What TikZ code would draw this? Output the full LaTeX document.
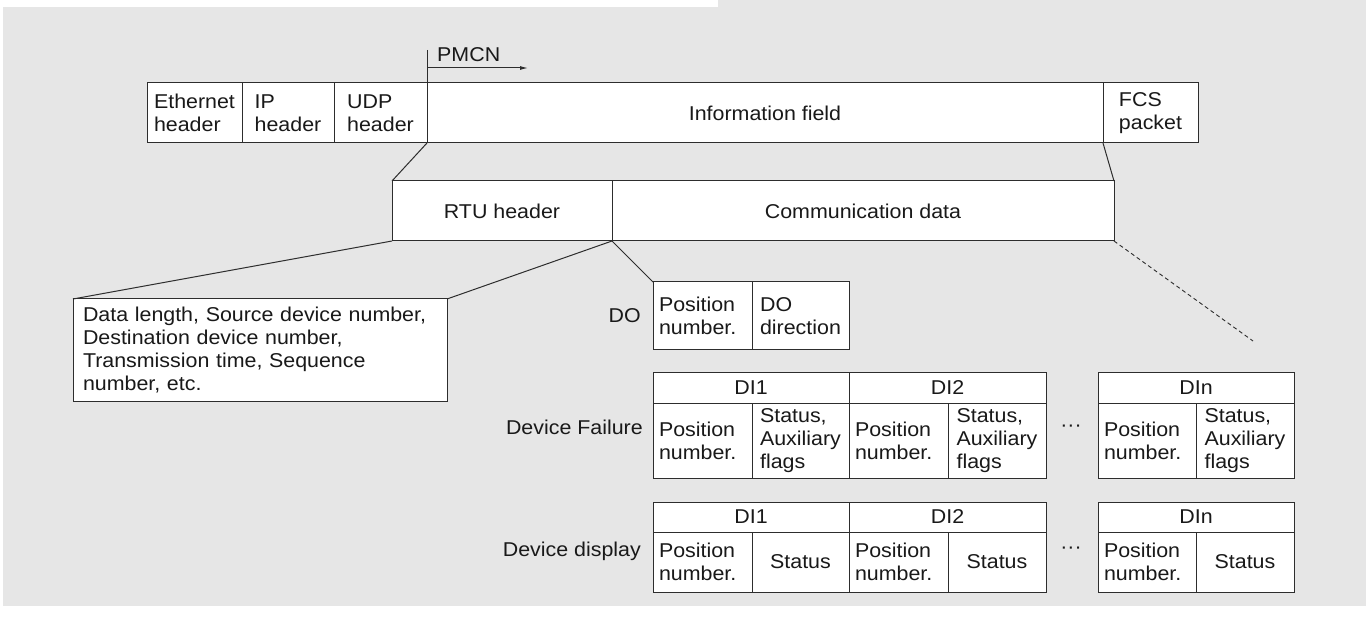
\documentclass[tikz,border=0pt]{standalone}
\usepackage{fontspec}
\setmainfont[FakeStretch=1.07]{Liberation Sans}
\usetikzlibrary{arrows.meta}
\definecolor{bgc}{RGB}{230,230,230}
\definecolor{linec}{RGB}{45,45,45}
\definecolor{textc}{RGB}{25,25,25}
\begin{document}
\begin{tikzpicture}[x=1pt,y=-1pt,
  font=\fontsize{20}{23}\selectfont, text=textc,
  cell/.style={draw=linec, fill=white, line width=1pt, inner sep=0pt,
    outer sep=0pt, anchor=north west, align=left},
  lcell/.style={cell, inner xsep=6pt, text width=#1},
  conn/.style={draw=linec, line width=1pt},
  lbl/.style={inner sep=0pt, anchor=base east}]
\useasboundingbox (0,0) rectangle (1366,620);
% page background
\fill[white] (0,0) rectangle (1366,620);
\fill[bgc] (3,7) rectangle (1366,606);
\fill[bgc] (718,0) rectangle (1366,7);

% ---- Ethernet frame ----
\node[cell, minimum width=95, minimum height=60] (eth) at (147,83) {Ethernet\\header};
\node[cell, minimum width=92, minimum height=60] (ip) at (242,83) {IP\\header};
\node[cell, minimum width=93, minimum height=60] (udp) at (334,83) {UDP\\header};
\node[cell, minimum width=676, minimum height=60] (info) at (427,83) {Information field};
\node[cell, minimum width=95, minimum height=60] (fcs) at (1103,83) {FCS\\packet};

% PMCN marker
\coordinate (pmcntop) at (427,50);
\coordinate (pmcna) at (427,68);
\coordinate (pmcnb) at (528,68);
\draw[conn] (pmcntop) -- (info.north west);
\draw[conn, -{Latex[length=8pt,width=4pt]}] (pmcna) -- (pmcnb);
\node[inner sep=0pt, anchor=base west] (pmcn) at (437,62) {PMCN};

% ---- information field ----
\node[cell, minimum width=220, minimum height=60, align=center] (rtu) at (392,181) {RTU header};
\node[cell, minimum width=502, minimum height=60, align=center] (comm) at (612,181) {Communication data};
\draw[conn] (udp.south east) -- (rtu.north west);
\draw[conn] (fcs.south west) -- (comm.north east);

% ---- RTU header contents ----
\node[cell, inner xsep=10pt, text width=354, minimum width=374, minimum height=102] (data) at (73,299)
  {Data length, Source device number,\\Destination device number,\\Transmission time, Sequence\\number, etc.};
\draw[conn] (rtu.south west) -- (data.north west);
\draw[conn] (rtu.south east) -- (data.north east);

% ---- DO ----
\node[lcell=87, minimum width=99, minimum height=68] (dopos) at (653,282) {Position\\number.};
\node[cell, minimum width=97, minimum height=68] (dodir) at (752,282) {DO\\direction};
\node[lbl] (dolbl) at (641,323) {DO};
\draw[conn] (rtu.south east) -- (dopos.north west);

% dashed continuation of the communication data
\coordinate (dashend) at (1253,341);
\draw[draw=linec, line width=0.9pt, dash pattern=on 4pt off 3pt] (comm.south east) -- (dashend);

% ---- Device Failure ----
\node[cell, minimum width=196, minimum height=30, align=center] (fa) at (653,373) {DI1};
\node[cell, minimum width=197, minimum height=30, align=center] (fb) at (849,373) {DI2};
\node[cell, minimum width=196, minimum height=30, align=center] (fn) at (1098,373) {DIn};
\node[lcell=87, minimum width=99, minimum height=75] (fap) at (653,403) {Position\\number.};
\node[cell, minimum width=97, minimum height=75] (fas) at (752,403) {Status,\\Auxiliary\\flags};
\node[lcell=87, minimum width=99, minimum height=75] (fbp) at (849,403) {Position\\number.};
\node[cell, minimum width=98, minimum height=75] (fbs) at (948,403) {Status,\\Auxiliary\\flags};
\node[lcell=86, minimum width=98, minimum height=75] (fnp) at (1098,403) {Position\\number.};
\node[cell, minimum width=98, minimum height=75] (fns) at (1196,403) {Status,\\Auxiliary\\flags};
\node[lbl] (flbl) at (643,434) {Device Failure};
\node[inner sep=0pt, anchor=base] (fdots) at (1071,431) {···};

% ---- Device display ----
\node[cell, minimum width=196, minimum height=30, align=center] (da) at (653,502) {DI1};
\node[cell, minimum width=197, minimum height=30, align=center] (db) at (849,502) {DI2};
\node[cell, minimum width=196, minimum height=30, align=center] (dn) at (1098,502) {DIn};
\node[lcell=87, minimum width=99, minimum height=60] (dap) at (653,532) {Position\\number.};
\node[cell, minimum width=97, minimum height=60, align=center] (das) at (752,532) {Status};
\node[lcell=87, minimum width=99, minimum height=60] (dbp) at (849,532) {Position\\number.};
\node[cell, minimum width=98, minimum height=60, align=center] (dbs) at (948,532) {Status};
\node[lcell=86, minimum width=98, minimum height=60] (dnp) at (1098,532) {Position\\number.};
\node[cell, minimum width=98, minimum height=60, align=center] (dns) at (1196,532) {Status};
\node[lbl] (dlbl) at (641,556) {Device display};
\node[inner sep=0pt, anchor=base] (ddots) at (1071,553) {···};
\end{tikzpicture}
\end{document}
